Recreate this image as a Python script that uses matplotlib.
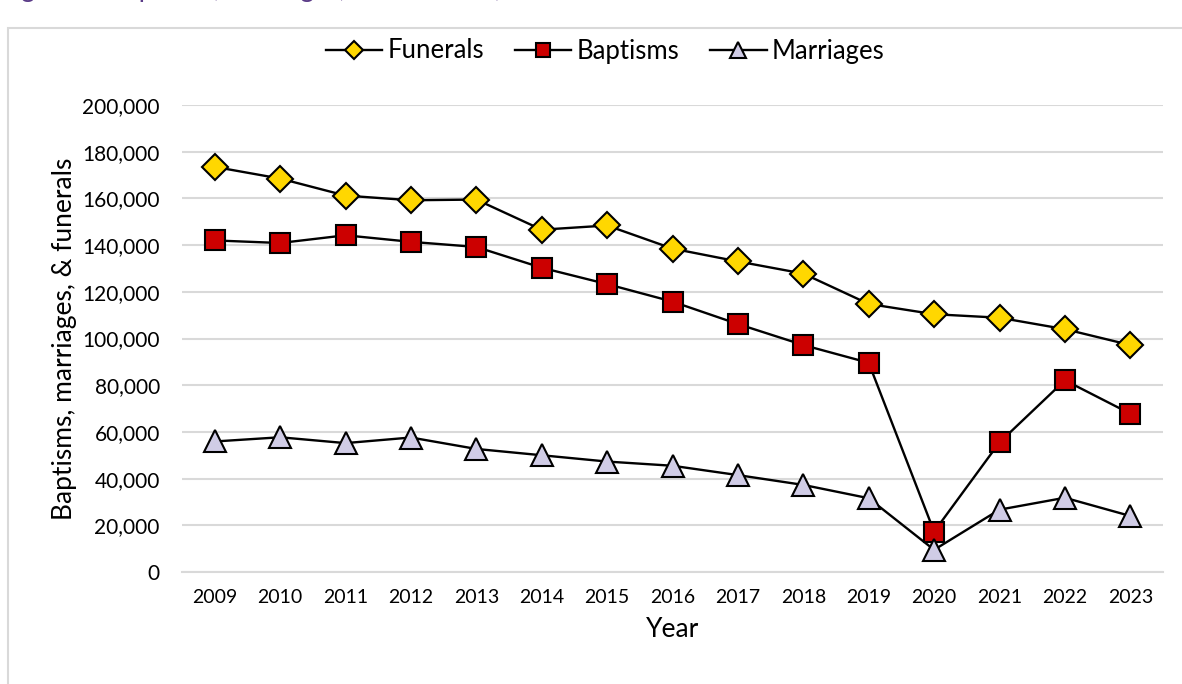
import matplotlib.pyplot as plt
from matplotlib.patches import Rectangle
from matplotlib.ticker import FuncFormatter

plt.rcParams['font.family'] = ['Lato', 'DejaVu Sans']

years = [str(y) for y in range(2009, 2024)]
funerals = [173500, 168500, 161200, 159200, 159500, 146600, 148400, 138500,
            133000, 127800, 114800, 110400, 108900, 104000, 97200]
baptisms = [142000, 140900, 144200, 141400, 139200, 130300, 123300, 115800,
            106200, 97200, 89600, 17300, 55500, 82100, 67800]
marriages = [55900, 57700, 55200, 57600, 52700, 50000, 47300, 45500,
             41500, 37300, 31600, 9500, 26700, 31800, 24000]

fig = plt.figure(figsize=(11.82, 6.84), dpi=100)

# frame of the chart box and clipped caption at top
fig.patches.append(Rectangle((8 / 1182, -0.01), 1.0, 1 - 28 / 684 + 0.01,
                             transform=fig.transFigure, fill=False,
                             edgecolor='#d9d9d9', linewidth=1.5))
fig.text(0.0, 1 + 3.5 / 684, "Figure 1: Baptisms, marriages, and funerals, 2009\u20132023",
         color='#5b3c88', fontsize=19, va='baseline', ha='left')

ax = fig.add_axes([182 / 1182, 1 - 572 / 684, 981 / 1182, 467 / 684])

x = range(len(years))
ax.plot(x, funerals, color='black', lw=1.7, marker='D', ms=13,
        mfc='#ffd700', mec='black', mew=1.5, label='Funerals', zorder=3)
ax.plot(x, baptisms, color='black', lw=1.7, marker='s', ms=14,
        mfc='#cc0000', mec='black', mew=1.5, label='Baptisms', zorder=3)
ax.plot(x, marriages, color='black', lw=1.7, marker='^', ms=16,
        mfc='#d0cce6', mec='black', mew=1.5, label='Marriages', zorder=3)

ax.set_xlim(-0.5, len(years) - 0.5)
ax.set_ylim(0, 200000)
ax.set_yticks(range(0, 200001, 20000))
ax.yaxis.set_major_formatter(FuncFormatter(lambda v, p: f"{int(v):,}"))
ax.set_xticks(list(x))
ax.set_xticklabels(years)
ax.grid(axis='y', color='#d9d9d9', linewidth=1.5)
ax.set_axisbelow(True)
for s in ax.spines.values():
    s.set_visible(False)
ax.spines['bottom'].set_visible(True)
ax.spines['bottom'].set_color('#d9d9d9')
ax.spines['bottom'].set_linewidth(1.5)
ax.tick_params(length=0, labelsize=14)
ax.tick_params(axis='y', labelsize=15, pad=16)
ax.tick_params(axis='x', pad=12)

ax.set_xlabel('Year', fontsize=19, labelpad=8)
ax.set_ylabel('Baptisms, marriages, & funerals', fontsize=19, labelpad=4)

fig.legend(loc='center', bbox_to_anchor=(605 / 1182, 1 - 51 / 684), ncol=3,
           frameon=False, fontsize=18.5, handlelength=2.2, handletextpad=0.2,
           columnspacing=1.2, markerscale=0.7)

fig.savefig('out.png', dpi=100)
